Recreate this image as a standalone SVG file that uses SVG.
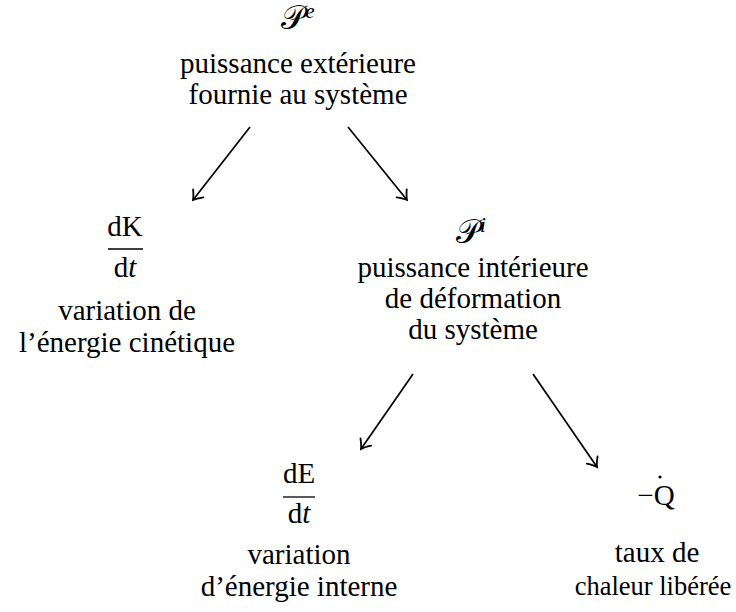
<svg xmlns="http://www.w3.org/2000/svg" width="736" height="612" viewBox="0 0 736 612">
<style>
text{font-family:"Liberation Serif","Times New Roman",serif;font-size:29px;fill:#000;text-anchor:middle}
.sym{font-size:33px}
.it{font-style:italic}
.sup{font-size:21px;font-style:italic}
.conn line{stroke:#000;stroke-width:1.7;fill:none;marker-end:url(#arr)}
.bar{stroke:#000;stroke-width:1.3}
</style>
<defs>
<marker id="arr" markerUnits="userSpaceOnUse" viewBox="-10 -8 12 16" refX="0" refY="0" markerWidth="12" markerHeight="16" orient="auto">
<path d="M-8.5,-6.5 Q-3,-1.5 0,0 Q-3,1.5 -8.5,6.5" fill="none" stroke="#000" stroke-width="1.8" stroke-linecap="round"/>
</marker>
</defs>
<rect width="736" height="612" fill="#fff"/>
<g id="Pe">
<text x="298" y="29"><tspan class="sym">𝒫</tspan><tspan class="sup" dy="-11">e</tspan></text>
<text x="298" y="73">puissance extérieure</text>
<text x="298" y="104">fournie au système</text>
</g>
<g id="dKdt">
<text x="125" y="236">dK</text>
<line class="bar" x1="108" y1="249" x2="143" y2="249"/>
<text x="125" y="277">d<tspan class="it">t</tspan></text>
<text x="127" y="320">variation de</text>
<text x="127" y="352">l’énergie cinétique</text>
</g>
<g id="Pi">
<text x="471" y="243"><tspan class="sym">𝒫</tspan><tspan class="sup" dy="-11">i</tspan></text>
<text x="473" y="277">puissance intérieure</text>
<text x="473" y="308">de déformation</text>
<text x="473" y="339">du système</text>
</g>
<g id="dEdt">
<text x="299" y="483">dE</text>
<line class="bar" x1="283" y1="497" x2="315" y2="497"/>
<text x="299" y="523">d<tspan class="it">t</tspan></text>
<text x="299" y="564">variation</text>
<text x="299" y="596">d’énergie interne</text>
</g>
<g id="Qdot">
<text x="656" y="505">−Q</text>
<circle cx="660" cy="477" r="1.6" fill="#000"/>
<text x="657" y="562">taux de</text>
<text x="653" y="595" style="font-size:26.5px">chaleur libérée</text>
</g>
<g class="conn" id="connectors">
<line x1="250" y1="127" x2="193" y2="200"/>
<line x1="348" y1="127" x2="407" y2="200"/>
<line x1="413" y1="374" x2="361" y2="449"/>
<line x1="533" y1="374" x2="597" y2="467"/>
</g>
</svg>
